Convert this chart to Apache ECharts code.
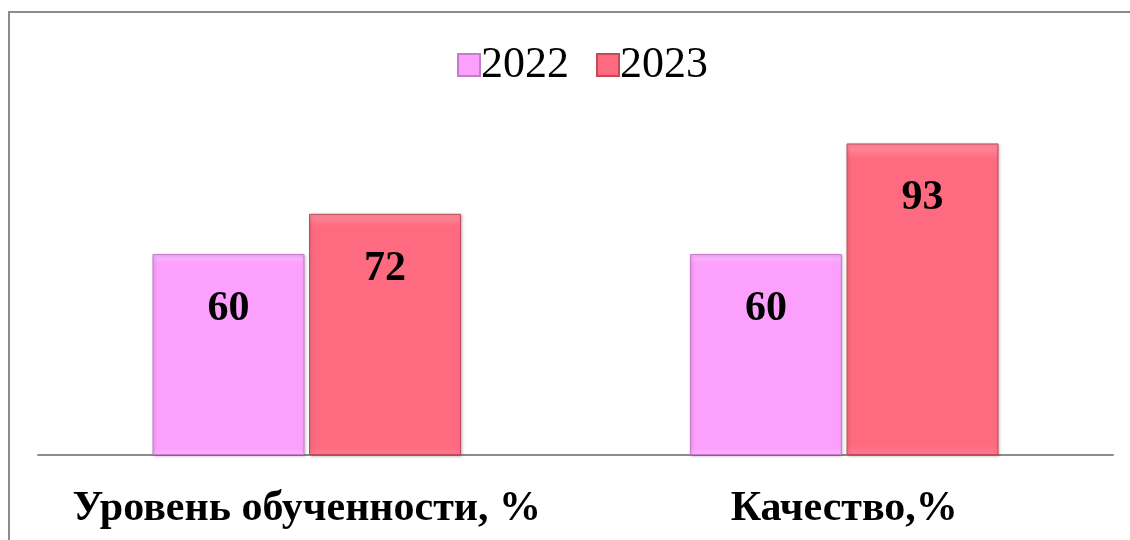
<!DOCTYPE html>
<html>
<head>
<meta charset="utf-8">
<script src="https://cdn.jsdelivr.net/npm/echarts@6/dist/echarts.min.js"></script>
<style>
  html, body { margin: 0; padding: 0; background: #fff; }
  #chart { width: 1130px; height: 540px; }
</style>
</head>
<body>
<div id="chart"></div>
<script>
// категории и значения
var categories = ['Уровень обученности, %', 'Качество,%'];
var years = ['2022', '2023'];
var values2022 = [60, 60];
var values2023 = [72, 93];

var colors = ['#fba0fd', '#fe6b80'];
var borders = ['#c97acb', '#c44a5a'];

var chart = echarts.init(document.getElementById('chart'));

function bevel(c) {
  return {
    type: 'linear', x: 0, y: 0, x2: 0, y2: 1,
    colorStops: [
      { offset: 0, color: echarts.color.lift(c, 0.25) },
      { offset: 0.05, color: c },
      { offset: 0.97, color: c },
      { offset: 1, color: echarts.color.lift(c, -0.15) }
    ]
  };
}

function makeSeries(name, data, i) {
  return {
    name: name,
    type: 'bar',
    data: data,
    barWidth: 152,
    barGap: '3%',
    itemStyle: {
      color: bevel(colors[i]),
      borderColor: borders[i],
      borderWidth: 1,
      shadowColor: 'rgba(0,0,0,0.25)',
      shadowBlur: 3,
      shadowOffsetX: 1,
      shadowOffsetY: 1
    },
    label: {
      show: true,
      position: 'insideTop',
      distance: 34,
      color: '#000',
      fontFamily: 'Liberation Serif',
      fontWeight: 'bold',
      fontSize: 42
    }
  };
}

var option = {
  animation: false,
  backgroundColor: '#fff',
  graphic: [{
    type: 'rect',
    shape: { x: 9, y: 12, width: 1200, height: 600 },
    style: { fill: 'none', stroke: '#8c8c8c', lineWidth: 2 },
    silent: true
  }],
  legend: {
    left: 452,
    top: 38,
    itemWidth: 22,
    itemHeight: 22,
    itemGap: 27,
    icon: 'rect',
    textStyle: { fontFamily: 'Liberation Serif', fontSize: 44, color: '#000', padding: [0, 0, 0, -4] },
    data: years
  },
  grid: { left: 38, right: 17, top: 120, bottom: 85 },
  xAxis: {
    type: 'category',
    data: categories,
    axisLine: { lineStyle: { color: '#8c8c8c', width: 2 } },
    axisTick: { show: false },
    axisLabel: {
      margin: 33,
      color: '#000',
      fontFamily: 'Liberation Serif',
      fontWeight: 'bold',
      fontSize: 42,
      interval: 0
    }
  },
  yAxis: {
    type: 'value',
    min: 0,
    max: 100,
    show: false,
    splitLine: { show: false }
  },
  series: [
    makeSeries(years[0], values2022, 0),
    makeSeries(years[1], values2023, 1)
  ]
};

chart.setOption(option);
</script>
</body>
</html>
